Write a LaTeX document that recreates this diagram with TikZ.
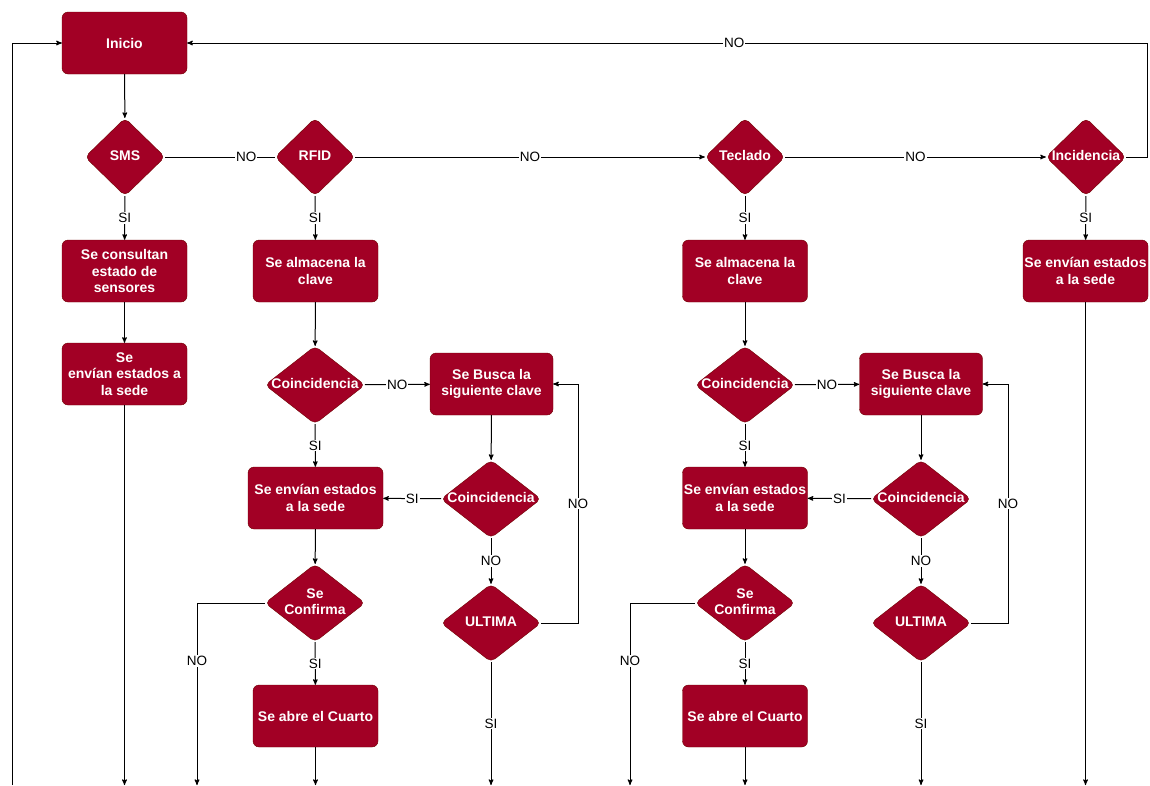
\documentclass[tikz,border=0pt]{standalone}
\usepackage{fontspec}
\setmainfont{Liberation Sans}
\usetikzlibrary{arrows}
\usetikzlibrary{shapes.geometric}
\definecolor{vino}{HTML}{A20025}
\definecolor{vinoborde}{HTML}{6F0000}
\newcommand{\dtxt}[1]{\makebox[0pt]{\raisebox{-1pt}{\begin{tabular}{@{}c@{}}#1\end{tabular}}}}
\tikzset{->, > = stealth',
  paso/.style = {rectangle, rounded corners = 6pt, fill = vino, draw = vinoborde, text = white,
    font = \bfseries\fontsize{14}{16.5}\selectfont, align = center,
    minimum width = 125pt, minimum height = 62pt, inner sep = 1pt},
  decision/.style = {diamond, rounded corners = 5pt, fill = vino, draw = vinoborde, text = white,
    font = \bfseries\fontsize{14}{16.5}\selectfont,
    minimum width = 80pt, minimum height = 78pt, inner sep = 0pt},
  etiq/.style = {fill = white, text = black, font = \fontsize{13.5}{15}\selectfont, inner sep = 1pt},
  flujo/.style = {line width = 1pt}}

\begin{document}
\begin{tikzpicture}[x = 1pt, y = -1pt]
    \useasboundingbox (0,0) rectangle (1150,785);
    \node [paso] (inicio) at (124.5,43) {Inicio};
    \node [decision] (sms) at (125,157) {\dtxt{SMS}};
    \node [decision] (rfid) at (315,157) {\dtxt{RFID}};
    \node [decision] (teclado) at (745,157) {\dtxt{Teclado}};
    \node [decision] (incid) at (1086,157) {\dtxt{Incidencia}};
    % rama SMS
    \node [paso] (consulta) at (124.5,271) {Se consultan\\estado de\\sensores};
    \node [paso] (envsms) at (124.5,374) {Se\\envían estados a\\la sede};
    % rama RFID
    \node [paso] (almrfid) at (315.5,271) {Se almacena la\\clave};
    \node [decision, minimum width = 100pt] (coinrfid) at (315,385) {\dtxt{Coincidencia}};
    \node [paso, minimum width = 123pt] (busrfid) at (491.5,384) {Se Busca la\\siguiente clave};
    \node [decision, minimum width = 100pt] (coindosrfid) at (491,499) {\dtxt{Coincidencia}};
    \node [paso, minimum width = 135pt] (envrfid) at (315.5,498) {Se envían estados\\a la sede};
    \node [decision, minimum width = 100pt] (confrfid) at (315,603) {\dtxt{Se\\Confirma}};
    \node [decision, minimum width = 100pt] (ultrfid) at (491,623) {\dtxt{ULTIMA}};
    \node [paso] (abrerfid) at (315.5,716) {Se abre el Cuarto};
    % rama Teclado
    \node [paso] (almtec) at (745,271) {Se almacena la\\clave};
    \node [decision, minimum width = 100pt] (cointec) at (745,385) {\dtxt{Coincidencia}};
    \node [paso, minimum width = 123pt] (bustec) at (921,384) {Se Busca la\\siguiente clave};
    \node [decision, minimum width = 100pt] (coindostec) at (921,499) {\dtxt{Coincidencia}};
    \node [paso] (envtec) at (745,498) {Se envían estados\\a la sede};
    \node [decision, minimum width = 100pt] (conftec) at (745,603) {\dtxt{Se\\Confirma}};
    \node [decision, minimum width = 100pt] (ulttec) at (921,623) {\dtxt{ULTIMA}};
    \node [paso] (abretec) at (745,716) {Se abre el Cuarto};
    % rama Incidencia
    \node [paso] (envinc) at (1085.5,271) {Se envían estados\\a la sede};
    % puntos de paso
    \coordinate (izq) at (12,785);
    \coordinate (der) at (1147,43);
    \coordinate (vueltarfid) at (578,384);
    \coordinate (vueltatec) at (1008,384);
    \coordinate (finsms) at (124.5,785);
    \coordinate (finnorfid) at (197,785);
    \coordinate (finabrerfid) at (315.5,785);
    \coordinate (finultrfid) at (491,785);
    \coordinate (finnotec) at (630,785);
    \coordinate (finabretec) at (745,785);
    \coordinate (finulttec) at (921,785);
    \coordinate (fininc) at (1085.5,785);
    % paths
    \draw [flujo] (izq) |- (inicio.west);
    \draw [flujo] (inicio) -- (sms);
    \draw [flujo, -] (sms) -- node [etiq, pos = 0.74] {NO} (rfid);
    \draw [flujo] (rfid) -- node [etiq] {NO} (teclado);
    \draw [flujo] (teclado) -- node [etiq] {NO} (incid);
    \draw [flujo] (incid.east) -| (der) -- node [etiq, pos = 0.43] {NO} (inicio.east);
    \draw [flujo] (sms) -- node [etiq] {SI} (consulta);
    \draw [flujo] (consulta) -- (envsms);
    \draw [flujo] (envsms) -- (finsms);
    % RFID
    \draw [flujo] (rfid) -- node [etiq] {SI} (almrfid);
    \draw [flujo] (almrfid) -- (coinrfid);
    \draw [flujo] (coinrfid) -- node [etiq] {NO} (busrfid);
    \draw [flujo] (coinrfid) -- node [etiq] {SI} (envrfid);
    \draw [flujo] (busrfid) -- (coindosrfid);
    \draw [flujo] (coindosrfid) -- node [etiq] {SI} (envrfid);
    \draw [flujo] (coindosrfid) -- node [etiq] {NO} (ultrfid);
    \draw [flujo] (ultrfid.east) -| node [etiq, pos = 0.75] {NO} (vueltarfid) -- (busrfid.east);
    \draw [flujo] (envrfid) -- (confrfid);
    \draw [flujo] (confrfid.west) -| node [etiq, pos = 0.66] {NO} (finnorfid);
    \draw [flujo] (confrfid) -- node [etiq] {SI} (abrerfid);
    \draw [flujo] (abrerfid) -- (finabrerfid);
    \draw [flujo] (ultrfid) -- node [etiq] {SI} (finultrfid);
    % Teclado
    \draw [flujo] (teclado) -- node [etiq] {SI} (almtec);
    \draw [flujo] (almtec) -- (cointec);
    \draw [flujo] (cointec) -- node [etiq] {NO} (bustec);
    \draw [flujo] (cointec) -- node [etiq] {SI} (envtec);
    \draw [flujo] (bustec) -- (coindostec);
    \draw [flujo] (coindostec) -- node [etiq] {SI} (envtec);
    \draw [flujo] (coindostec) -- node [etiq] {NO} (ulttec);
    \draw [flujo] (ulttec.east) -| node [etiq, pos = 0.75] {NO} (vueltatec) -- (bustec.east);
    \draw [flujo] (envtec) -- (conftec);
    \draw [flujo] (conftec.west) -| node [etiq, pos = 0.66] {NO} (finnotec);
    \draw [flujo] (conftec) -- node [etiq] {SI} (abretec);
    \draw [flujo] (abretec) -- (finabretec);
    \draw [flujo] (ulttec) -- node [etiq] {SI} (finulttec);
    % Incidencia
    \draw [flujo] (incid) -- node [etiq] {SI} (envinc);
    \draw [flujo] (envinc) -- (fininc);
\end{tikzpicture}
\end{document}
